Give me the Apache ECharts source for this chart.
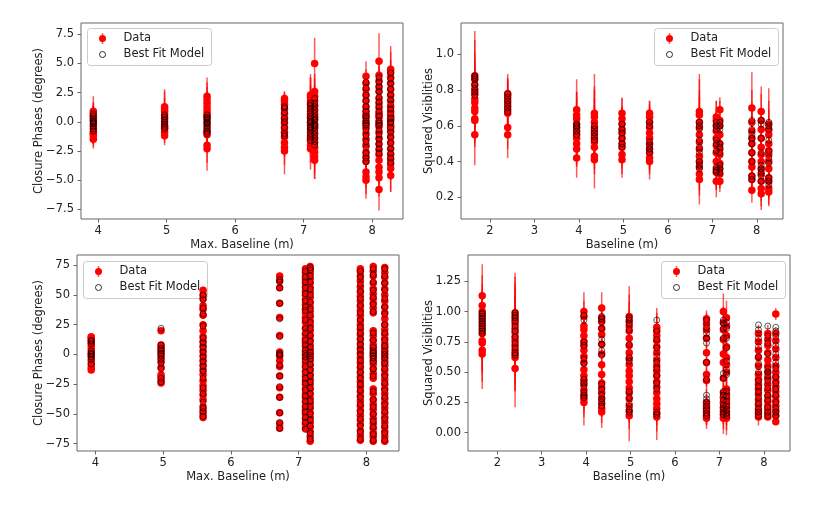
<!DOCTYPE html>
<html>
<head>
<meta charset="utf-8">
<script src="https://cdn.jsdelivr.net/npm/echarts@6/dist/echarts.min.js"></script>
<style>
  html, body { margin: 0; padding: 0; background: #fff; }
  #chart { width: 831px; height: 505px; }
</style>
</head>
<body>
<div id="chart"></div>
<script>
// ---- top-left: closure phases (small) ----
const cpSmallX = [3.93, 4.97, 5.59, 6.72, 7.10, 7.16, 7.91, 8.10, 8.27];
const cpSmallData = [
  [-1.5, -1.2, -0.9, -0.6, -0.3, 0.0, 0.2, 0.5, 0.7, 0.9, -1.0, 0.4],
  [-1.2, -0.9, -0.6, -0.3, 0.0, 0.3, 0.6, 0.9, 1.1, 1.3, -0.5],
  [-2.3, -2.0, -1.1, -0.8, -0.5, -0.2, 0.1, 0.4, 0.7, 1.0, 1.3, 1.6, 1.9, 2.2, -0.9, 0.5],
  [-2.5, -2.2, -1.8, -1.3, -0.9, -0.5, -0.1, 0.3, 0.7, 1.1, 1.5, 1.8, 2.0],
  [-2.3, -2.0, -1.6, -1.2, -0.9, -0.6, -0.3, 0.0, 0.3, 0.6, 0.9, 1.2, 1.5, 1.8, 2.1, 2.3, -1.4, 0.4, -0.1],
  [-3.3, -3.0, -2.6, -2.2, -1.8, -1.4, -1.0, -0.6, -0.2, 0.2, 0.6, 1.0, 1.4, 1.8, 2.2, 2.6, 5.0, -0.4, 0.4],
  [-5.0, -4.7, -4.3, -3.4, -3.0, -2.6, -2.0, -1.5, -1.0, -0.5, 0.0, 0.4, 0.9, 1.3, 1.8, 2.3, 2.8, 3.3, 3.9, -0.2, 0.6],
  [-5.8, -4.8, -4.3, -3.9, -3.3, -2.8, -2.4, -1.9, -1.4, -0.9, -0.4, 0.0, 0.4, 0.8, 1.2, 1.6, 2.0, 2.6, 3.0, 3.5, 4.0, 5.2, -0.2, 0.6],
  [-4.6, -4.0, -3.6, -3.2, -2.8, -2.3, -1.8, -1.3, -0.8, -0.3, 0.1, 0.5, 0.9, 1.3, 1.8, 2.3, 2.8, 3.3, 3.8, 4.2, 4.5, 0.3, -0.5]
];
const cpSmallErr = [
  [0.8, 0.9, 1.0, 0.9, 1.1, 1.0, 1.2, 1.1, 1.0, 1.3, 0.9, 1.0],
  [0.8, 0.9, 0.8, 1.0, 1.1, 0.9, 1.0, 1.2, 1.7, 1.3, 0.8],
  [1.9, 1.5, 1.2, 1.0, 1.1, 1.0, 1.2, 1.1, 1.0, 1.2, 1.3, 1.4, 1.5, 1.6, 1.1, 1.0],
  [2.0, 1.5, 1.2, 1.1, 1.0, 1.2, 1.1, 1.0, 1.2, 1.1, 0.9, 0.8, 0.6],
  [1.8, 1.5, 1.3, 1.2, 1.1, 1.0, 1.2, 1.1, 1.0, 1.3, 1.2, 1.4, 1.6, 2.3, 1.7, 1.5, 1.1, 1.0, 1.2],
  [1.6, 1.4, 2.3, 1.5, 1.3, 1.2, 1.1, 1.0, 1.2, 1.1, 1.3, 1.2, 1.4, 1.3, 1.5, 1.5, 2.2, 1.0, 1.1],
  [1.6, 1.5, 1.4, 1.3, 1.2, 1.1, 1.2, 1.0, 1.1, 1.0, 1.2, 1.1, 1.0, 1.2, 1.1, 1.2, 1.3, 1.2, 1.3, 1.0, 1.1],
  [1.8, 1.6, 1.5, 1.4, 1.3, 1.2, 1.1, 1.2, 1.0, 1.1, 1.2, 1.0, 1.1, 1.2, 1.0, 1.1, 1.3, 1.2, 1.4, 1.3, 1.5, 2.4, 1.0, 1.1],
  [1.4, 2.0, 1.4, 1.3, 1.2, 1.1, 1.0, 1.2, 1.1, 1.0, 1.2, 1.1, 1.0, 1.1, 1.2, 1.3, 1.2, 1.4, 1.5, 1.8, 2.0, 1.0, 1.1]
];
const cpSmallModel = [
  [-0.8, -0.6, -0.4, -0.1, 0.1, 0.3, 0.5, 0.7, 0.0, -0.2],
  [-0.6, -0.4, -0.2, 0.0, 0.2, 0.4, 0.6],
  [-1.0, -0.8, -0.6, -0.4, -0.2, 0.0, 0.2, 0.4, 0.6, -0.1, 0.3],
  [-1.2, -1.0, -0.5, 0.0, 0.3, 0.8, 1.2, 1.3],
  [-1.6, -1.3, -1.0, -0.7, -0.4, -0.1, 0.2, 0.5, 0.8, 1.1, 1.4, 1.6, 0.0, -0.5],
  [-2.0, -1.7, -1.4, -1.1, -0.8, -0.5, -0.2, 0.1, 0.4, 0.7, 1.0, 1.3, 1.6, 2.0, -0.3, 0.2],
  [-3.4, -3.1, -2.7, -2.2, -1.7, -1.2, -0.7, -0.3, 0.1, 0.5, 0.9, 1.3, 1.8, 2.3, 2.9, 3.4, 0.3, -0.1],
  [-2.7, -2.3, -1.9, -1.5, -1.1, -0.7, -0.3, 0.1, 0.5, 0.9, 1.3, 1.7, 2.1, 2.6, 3.0, 3.4, 3.8, -0.1],
  [-3.5, -3.1, -2.7, -2.3, -1.8, -1.3, -0.9, -0.5, -0.1, 0.3, 0.7, 1.1, 1.5, 1.9, 2.3, 2.8, 3.3, 3.7, 4.2, 0.0]
];

// ---- top-right: squared visibilities (small) ----
const v2SmallX = [1.66, 2.40, 3.95, 4.35, 4.97, 5.59, 6.71, 7.09, 7.17, 7.89, 8.10, 8.27];
const v2SmallData = [
  [0.55, 0.63, 0.64, 0.68, 0.70, 0.73, 0.75, 0.78, 0.80, 0.83, 0.86, 0.88],
  [0.55, 0.59, 0.67, 0.69, 0.71, 0.73, 0.75, 0.77, 0.78],
  [0.42, 0.47, 0.50, 0.53, 0.55, 0.57, 0.59, 0.61, 0.64, 0.66, 0.69],
  [0.41, 0.43, 0.48, 0.51, 0.53, 0.55, 0.57, 0.59, 0.62, 0.65, 0.67],
  [0.41, 0.44, 0.48, 0.50, 0.53, 0.56, 0.58, 0.61, 0.64, 0.67],
  [0.40, 0.42, 0.45, 0.47, 0.50, 0.53, 0.56, 0.59, 0.62, 0.65, 0.67],
  [0.30, 0.33, 0.37, 0.40, 0.43, 0.47, 0.51, 0.55, 0.59, 0.62, 0.66, 0.68],
  [0.29, 0.34, 0.36, 0.40, 0.45, 0.49, 0.53, 0.57, 0.60, 0.63, 0.65],
  [0.29, 0.33, 0.36, 0.39, 0.44, 0.47, 0.50, 0.55, 0.60, 0.63, 0.69],
  [0.24, 0.30, 0.32, 0.37, 0.40, 0.45, 0.50, 0.53, 0.57, 0.62, 0.70],
  [0.22, 0.25, 0.29, 0.33, 0.36, 0.40, 0.44, 0.48, 0.53, 0.58, 0.63, 0.68],
  [0.23, 0.25, 0.29, 0.31, 0.36, 0.40, 0.44, 0.46, 0.50, 0.55, 0.58, 0.61]
];
const v2SmallErr = [
  [0.17, 0.15, 0.14, 0.16, 0.15, 0.14, 0.16, 0.15, 0.17, 0.18, 0.22, 0.25],
  [0.13, 0.12, 0.10, 0.11, 0.10, 0.12, 0.11, 0.10, 0.11],
  [0.11, 0.10, 0.12, 0.10, 0.11, 0.13, 0.12, 0.14, 0.15, 0.13, 0.17],
  [0.16, 0.10, 0.12, 0.11, 0.10, 0.12, 0.14, 0.16, 0.20, 0.15, 0.22],
  [0.10, 0.11, 0.12, 0.10, 0.11, 0.10, 0.12, 0.10, 0.11, 0.09],
  [0.10, 0.09, 0.10, 0.11, 0.10, 0.09, 0.10, 0.11, 0.10, 0.09, 0.07],
  [0.14, 0.12, 0.13, 0.12, 0.13, 0.14, 0.15, 0.16, 0.17, 0.18, 0.20, 0.21],
  [0.09, 0.10, 0.11, 0.10, 0.10, 0.09, 0.10, 0.11, 0.10, 0.11, 0.09],
  [0.06, 0.08, 0.10, 0.09, 0.10, 0.11, 0.10, 0.09, 0.10, 0.11, 0.07],
  [0.07, 0.08, 0.10, 0.12, 0.11, 0.13, 0.14, 0.15, 0.16, 0.18, 0.20],
  [0.09, 0.10, 0.11, 0.12, 0.11, 0.13, 0.12, 0.13, 0.14, 0.12, 0.15, 0.14],
  [0.08, 0.09, 0.10, 0.11, 0.12, 0.10, 0.11, 0.13, 0.12, 0.14, 0.16, 0.20]
];
const v2SmallModel = [
  [0.77, 0.79, 0.81, 0.83, 0.86, 0.88, 0.87],
  [0.68, 0.70, 0.72, 0.74, 0.76, 0.78],
  [0.55, 0.57, 0.59, 0.60, 0.61],
  [0.52, 0.54, 0.56, 0.58, 0.60],
  [0.48, 0.50, 0.53, 0.56, 0.58, 0.61],
  [0.45, 0.47, 0.49, 0.51, 0.60, 0.62],
  [0.36, 0.38, 0.40, 0.45, 0.48, 0.52, 0.58, 0.60, 0.62],
  [0.34, 0.35, 0.37, 0.46, 0.50, 0.52, 0.58, 0.60, 0.62],
  [0.34, 0.36, 0.38, 0.45, 0.48, 0.50, 0.58, 0.60, 0.62],
  [0.30, 0.32, 0.40, 0.45, 0.50, 0.53, 0.55, 0.58, 0.63],
  [0.29, 0.32, 0.34, 0.36, 0.38, 0.45, 0.53, 0.61, 0.63],
  [0.27, 0.29, 0.31, 0.39, 0.42, 0.46, 0.52, 0.58, 0.60, 0.62]
];

// ---- bottom-left: closure phases (large) ----
const cpLargeX = [3.94, 4.97, 5.59, 6.72, 7.10, 7.17, 7.91, 8.10, 8.27];
const cpLargeData = [
  [-13, -11, -8, -5, -2, 0, 2, 5, 8, 10, 12, 14, 15],
  [-24, -22, -19, -17, -11, -6, -3, 0, 2, 4, 6, 8, 20],
  [-53, -50, -47, -44, -38, -34, -30, -26, -22, -17, -13, -9, -5, -1, 3, 7, 11, 15, 20, 25, 33, 38, 41, 47, 50, 54],
  [-62, -58, -49, -36, -28, -18, -10, -5, -1, 2, 16, 31, 43, 56, 62, 66],
  [-62, -58, -54, -50, -47, -44, -40, -36, -33, -29, -25, -22, -18, -14, -10, -7, -3, 0, 3, 7, 10, 13, 17, 22, 27, 31, 35, 38, 42, 46, 50, 53, 57, 60, 63, 66, 69, 72],
  [-73, -69, -65, -61, -57, -53, -49, -45, -41, -37, -33, -29, -25, -21, -17, -13, -9, -5, -2, 1, 4, 8, 12, 16, 20, 24, 28, 32, 36, 40, 44, 48, 52, 56, 60, 64, 68, 71, 74],
  [-72, -68, -64, -59, -55, -51, -47, -43, -39, -35, -31, -27, -23, -19, -15, -11, -7, -3, 1, 5, 9, 13, 17, 21, 25, 29, 33, 37, 41, 45, 49, 53, 57, 62, 66, 70, 72],
  [-73, -69, -66, -62, -58, -54, -50, -46, -42, -38, -33, -29, -20, -16, -12, -8, -5, -2, 0, 2, 5, 8, 12, 16, 20, 35, 39, 43, 47, 51, 55, 60, 66, 70, 74],
  [-73, -69, -65, -61, -57, -53, -49, -45, -41, -37, -33, -29, -25, -21, -17, -13, -9, -6, -3, 0, 3, 6, 9, 13, 17, 21, 25, 30, 35, 40, 45, 50, 55, 60, 65, 69, 73]
];
const cpLargeErr = [2, 2, 3, 2, 3, 3, 3, 3, 3];
const cpLargeModel = [
  [-8, -4, -2, 0, 1, 3, 9, 11, 12],
  [-23, -20, -12, -7, -4, -1, 1, 3, 5, 8, 22],
  [-52, -48, -45, -40, -33, -28, -20, -14, -10, -6, -2, 2, 6, 10, 14, 24, 34, 39, 46, 50],
  [-62, -57, -49, -36, -27, -18, -9, -1, 0, 1, 15, 30, 43, 56, 61, 63],
  [-63, -57, -53, -48, -44, -39, -35, -30, -24, -20, -15, -10, -5, -2, 1, 4, 8, 12, 18, 22, 29, 37, 40, 45, 51, 56, 61, 65, 70],
  [-71, -66, -60, -55, -50, -44, -39, -33, -28, -23, -18, -13, -8, -4, -1, 2, 6, 11, 16, 22, 27, 33, 38, 44, 50, 55, 61, 66, 71, 73],
  [-71, -65, -60, -54, -48, -42, -36, -30, -25, -20, -15, -10, -5, 0, 4, 8, 13, 18, 23, 29, 35, 41, 47, 53, 59, 65, 70],
  [-72, -67, -61, -56, -50, -44, -38, -31, -18, -12, -6, -3, -1, 1, 3, 6, 12, 18, 36, 42, 48, 54, 61, 67, 72],
  [-72, -66, -60, -54, -48, -42, -36, -30, -24, -18, -12, -7, -3, 0, 3, 7, 12, 18, 25, 34, 40, 47, 54, 60, 66, 72]
];

// ---- bottom-right: squared visibilities (large) ----
const v2LargeX = [1.66, 2.40, 3.95, 4.35, 4.97, 5.59, 6.71, 7.09, 7.16, 7.88, 8.09, 8.27];
const v2LargeData = [
  [0.65, 0.68, 0.74, 0.76, 0.82, 0.85, 0.88, 0.91, 0.94, 0.97, 1.00, 1.05, 1.13],
  [0.53, 0.62, 0.65, 0.68, 0.72, 0.76, 0.79, 0.83, 0.86, 0.90, 0.93, 0.96, 0.99],
  [0.25, 0.28, 0.31, 0.35, 0.40, 0.43, 0.47, 0.52, 0.58, 0.63, 0.68, 0.72, 0.75, 0.80, 0.85, 0.88, 0.96, 1.00],
  [0.17, 0.20, 0.24, 0.28, 0.33, 0.37, 0.41, 0.48, 0.56, 0.65, 0.73, 0.81, 0.86, 0.92, 0.95, 1.03],
  [0.14, 0.18, 0.22, 0.28, 0.33, 0.37, 0.42, 0.47, 0.51, 0.56, 0.61, 0.66, 0.72, 0.78, 0.84, 0.88, 0.92, 0.96],
  [0.13, 0.16, 0.20, 0.24, 0.28, 0.33, 0.38, 0.42, 0.47, 0.51, 0.55, 0.60, 0.66, 0.71, 0.76, 0.80, 0.84, 0.87],
  [0.12, 0.14, 0.17, 0.20, 0.22, 0.25, 0.43, 0.48, 0.58, 0.66, 0.78, 0.85, 0.90, 0.94],
  [0.12, 0.15, 0.18, 0.21, 0.25, 0.29, 0.33, 0.45, 0.58, 0.65, 0.77, 0.85, 0.91, 1.00],
  [0.12, 0.14, 0.17, 0.21, 0.24, 0.28, 0.32, 0.36, 0.50, 0.56, 0.62, 0.71, 0.80, 0.88, 0.95],
  [0.13, 0.16, 0.19, 0.23, 0.27, 0.32, 0.36, 0.40, 0.44, 0.48, 0.55, 0.62, 0.68, 0.75, 0.82],
  [0.13, 0.16, 0.19, 0.22, 0.26, 0.30, 0.35, 0.40, 0.45, 0.50, 0.55, 0.60, 0.66, 0.72, 0.77, 0.82],
  [0.09, 0.14, 0.18, 0.22, 0.26, 0.30, 0.34, 0.38, 0.42, 0.46, 0.50, 0.55, 0.62, 0.69, 0.76, 0.82, 0.98]
];
const v2LargeErr = [
  [0.29, 0.26, 0.25, 0.24, 0.22, 0.20, 0.19, 0.18, 0.20, 0.21, 0.23, 0.25, 0.26],
  [0.32, 0.28, 0.30, 0.27, 0.25, 0.24, 0.26, 0.27, 0.28, 0.30, 0.31, 0.33, 0.33],
  [0.19, 0.15, 0.14, 0.13, 0.12, 0.14, 0.13, 0.12, 0.11, 0.13, 0.12, 0.11, 0.12, 0.13, 0.12, 0.14, 0.13, 0.16],
  [0.13, 0.12, 0.11, 0.12, 0.10, 0.11, 0.12, 0.10, 0.11, 0.12, 0.10, 0.11, 0.12, 0.10, 0.11, 0.13],
  [0.21, 0.15, 0.14, 0.13, 0.15, 0.14, 0.13, 0.15, 0.14, 0.16, 0.15, 0.14, 0.16, 0.15, 0.17, 0.20, 0.22, 0.25],
  [0.19, 0.15, 0.14, 0.15, 0.13, 0.14, 0.15, 0.13, 0.14, 0.15, 0.13, 0.14, 0.13, 0.15, 0.14, 0.16, 0.15, 0.16],
  [0.09, 0.08, 0.10, 0.09, 0.10, 0.11, 0.09, 0.10, 0.08, 0.09, 0.10, 0.08, 0.09, 0.07],
  [0.13, 0.12, 0.11, 0.12, 0.11, 0.12, 0.11, 0.12, 0.13, 0.12, 0.11, 0.12, 0.13, 0.15],
  [0.14, 0.12, 0.11, 0.12, 0.10, 0.11, 0.12, 0.10, 0.11, 0.12, 0.10, 0.11, 0.12, 0.10, 0.14],
  [0.07, 0.06, 0.08, 0.07, 0.06, 0.07, 0.08, 0.06, 0.07, 0.08, 0.06, 0.07, 0.06, 0.07, 0.07],
  [0.01, 0.02, 0.03, 0.02, 0.03, 0.02, 0.03, 0.02, 0.03, 0.04, 0.03, 0.04, 0.05, 0.04, 0.05, 0.07],
  [0.02, 0.03, 0.04, 0.03, 0.04, 0.03, 0.04, 0.03, 0.04, 0.03, 0.04, 0.05, 0.04, 0.05, 0.04, 0.05, 0.05]
];
const v2LargeModel = [
  [0.82, 0.84, 0.86, 0.88, 0.90, 0.92, 0.94, 0.96, 0.98, 0.99],
  [0.64, 0.66, 0.70, 0.74, 0.79, 0.84, 0.88, 0.92, 0.95, 0.97, 0.99],
  [0.29, 0.31, 0.33, 0.38, 0.41, 0.44, 0.57, 0.61, 0.72, 0.75, 0.93, 0.97],
  [0.22, 0.25, 0.28, 0.31, 0.36, 0.40, 0.64, 0.68, 0.73, 0.77, 0.86, 0.91, 0.94, 0.96],
  [0.17, 0.19, 0.24, 0.29, 0.34, 0.59, 0.62, 0.73, 0.85, 0.90, 0.93, 0.95],
  [0.15, 0.17, 0.36, 0.41, 0.47, 0.53, 0.58, 0.63, 0.70, 0.77, 0.84, 0.93],
  [0.14, 0.16, 0.19, 0.22, 0.25, 0.28, 0.31, 0.44, 0.58, 0.74, 0.78, 0.82, 0.87, 0.93],
  [0.15, 0.17, 0.20, 0.23, 0.27, 0.31, 0.34, 0.45, 0.49, 0.78, 0.86, 0.90, 0.93],
  [0.14, 0.16, 0.19, 0.22, 0.26, 0.30, 0.34, 0.48, 0.52, 0.59, 0.70, 0.78, 0.86, 0.91],
  [0.14, 0.17, 0.20, 0.24, 0.29, 0.34, 0.38, 0.43, 0.50, 0.57, 0.63, 0.71, 0.78, 0.85, 0.89],
  [0.14, 0.17, 0.21, 0.27, 0.31, 0.37, 0.43, 0.47, 0.50, 0.53, 0.65, 0.74, 0.80, 0.88],
  [0.14, 0.17, 0.20, 0.25, 0.31, 0.36, 0.41, 0.46, 0.53, 0.58, 0.65, 0.72, 0.79, 0.84, 0.87]
];

// tick positions
const cpSmallYTicks = [-7.5, -5, -2.5, 0, 2.5, 5, 7.5];
const cpLargeYTicks = [-75, -50, -25, 0, 25, 50, 75];
const v2SmallYTicks = [0.2, 0.4, 0.6, 0.8, 1.0];
const v2LargeYTicks = [0, 0.25, 0.5, 0.75, 1.0, 1.25];
const cpXTicks = [4, 5, 6, 7, 8];
const v2XTicks = [2, 3, 4, 5, 6, 7, 8];

const FONT = 'DejaVu Sans';
const FS = 11.5;
const TXT = '#222';
const FRAME = '#666';
const ERR_COLOR = 'rgba(255,0,0,0.65)';
const MODEL_EDGE = 'rgba(0,0,0,0.8)';

const minus = s => String(s).replace('-', '\u2212');

// one panel = error bars + data points + model circles
function panelSeries(idx, xs, dataYs, errs, modelYs) {
  const pts = [], bars = [], model = [];
  xs.forEach((x, c) => {
    dataYs[c].forEach((y, k) => {
      const e = Array.isArray(errs[c]) ? errs[c][k] : errs[c];
      pts.push([x, y]);
      bars.push([x, y - e, y + e]);
    });
    modelYs[c].forEach(y => model.push([x, y]));
  });
  return [
    {
      type: 'custom',
      xAxisIndex: idx, yAxisIndex: idx,
      clip: true, silent: true, z: 1,
      renderItem: (params, api) => {
        const p0 = api.coord([api.value(0), api.value(1)]);
        const p1 = api.coord([api.value(0), api.value(2)]);
        return {
          type: 'line',
          shape: { x1: p0[0], y1: p0[1], x2: p1[0], y2: p1[1] },
          style: { stroke: ERR_COLOR, lineWidth: 1.5 }
        };
      },
      encode: { x: 0, y: [1, 2] },
      data: bars
    },
    {
      name: 'Data', type: 'scatter',
      xAxisIndex: idx, yAxisIndex: idx, z: 2, silent: true,
      symbolSize: 7.5,
      itemStyle: { color: '#ff0000', opacity: 1 },
      data: pts
    },
    {
      name: 'Best Fit Model', type: 'scatter',
      xAxisIndex: idx, yAxisIndex: idx, z: 3, silent: true,
      symbolSize: 6,
      itemStyle: { color: 'rgba(0,0,0,0)', borderColor: MODEL_EDGE, borderWidth: 1 },
      data: model
    }
  ];
}

function xAxisFor(idx, min, max, ticks, name) {
  return {
    type: 'value', gridIndex: idx, min, max,
    name, nameLocation: 'middle', nameGap: 20, nameMoveOverlap: false,
    nameTextStyle: { fontFamily: FONT, fontSize: FS, color: TXT },
    axisLine: { show: false, onZero: false },
    axisTick: { show: true, inside: false, length: 3.5, customValues: ticks, lineStyle: { color: FRAME } },
    axisLabel: { customValues: ticks, margin: 6, fontFamily: FONT, fontSize: FS, color: TXT, formatter: v => minus(v) },
    splitLine: { show: false }
  };
}

function yAxisFor(idx, min, max, ticks, name, gap, fmt) {
  return {
    type: 'value', gridIndex: idx, min, max,
    name, nameLocation: 'middle', nameGap: gap, nameMoveOverlap: false,
    nameTextStyle: { fontFamily: FONT, fontSize: FS, color: TXT },
    axisLine: { show: false, onZero: false },
    axisTick: { show: true, inside: false, length: 3.5, customValues: ticks, lineStyle: { color: FRAME } },
    axisLabel: { customValues: ticks, margin: 7, fontFamily: FONT, fontSize: FS, color: TXT, formatter: fmt },
    splitLine: { show: false }
  };
}

// matplotlib-like legend box
function legendBox(left, top) {
  const font = FS + 'px "' + FONT + '"';
  return {
    type: 'group', left, top, z: 100,
    children: [
      { type: 'rect', shape: { x: 0, y: 0, width: 124, height: 37, r: 3 },
        style: { fill: 'rgba(255,255,255,0.8)', stroke: '#ccc', lineWidth: 1 } },
      { type: 'line', shape: { x1: 15, y1: 4.5, x2: 15, y2: 15.5 },
        style: { stroke: ERR_COLOR, lineWidth: 1.5 } },
      { type: 'circle', shape: { cx: 15, cy: 10, r: 3.5 }, style: { fill: '#ff0000' } },
      { type: 'circle', shape: { cx: 15, cy: 26, r: 3 },
        style: { fill: 'none', stroke: MODEL_EDGE, lineWidth: 1 } },
      { type: 'text', x: 36, y: 10,
        style: { text: 'Data', font, fill: TXT, verticalAlign: 'middle' } },
      { type: 'text', x: 36, y: 26,
        style: { text: 'Best Fit Model', font, fill: TXT, verticalAlign: 'middle' } }
    ]
  };
}

const chart = echarts.init(document.getElementById('chart'), null, { renderer: 'canvas' });

const gridBase = { show: true, borderColor: FRAME, borderWidth: 1, backgroundColor: '#fff', containLabel: false };

const option = {
  animation: false,
  backgroundColor: '#fff',
  grid: [
    Object.assign({ left: 81, top: 23, width: 322, height: 196 }, gridBase),
    Object.assign({ left: 461, top: 23, width: 322, height: 196 }, gridBase),
    Object.assign({ left: 77, top: 255, width: 322, height: 196 }, gridBase),
    Object.assign({ left: 468, top: 255, width: 322, height: 196 }, gridBase)
  ],
  xAxis: [
    xAxisFor(0, 3.75, 8.45, cpXTicks, 'Max. Baseline (m)'),
    xAxisFor(1, 1.35, 8.59, v2XTicks, 'Baseline (m)'),
    xAxisFor(2, 3.73, 8.48, cpXTicks, 'Max. Baseline (m)'),
    xAxisFor(3, 1.34, 8.59, v2XTicks, 'Baseline (m)')
  ],
  yAxis: [
    yAxisFor(0, -8.33, 8.47, cpSmallYTicks, 'Closure Phases (degrees)', 36, v => minus(v.toFixed(1))),
    yAxisFor(1, 0.079, 1.175, v2SmallYTicks, 'Squared Visiblities', 26, v => v.toFixed(1)),
    yAxisFor(2, -81.1, 83.6, cpLargeYTicks, 'Closure Phases (degrees)', 32, v => minus(v)),
    yAxisFor(3, -0.151, 1.467, v2LargeYTicks, 'Squared Visiblities', 33, v => v.toFixed(2))
  ],
  series: [
    ...panelSeries(0, cpSmallX, cpSmallData, cpSmallErr, cpSmallModel),
    ...panelSeries(1, v2SmallX, v2SmallData, v2SmallErr, v2SmallModel),
    ...panelSeries(2, cpLargeX, cpLargeData, cpLargeErr, cpLargeModel),
    ...panelSeries(3, v2LargeX, v2LargeData, v2LargeErr, v2LargeModel)
  ],
  graphic: [
    legendBox(87, 28),
    legendBox(654, 28),
    legendBox(83, 261),
    legendBox(661, 261)
  ]
};

chart.setOption(option);
</script>
</body>
</html>
